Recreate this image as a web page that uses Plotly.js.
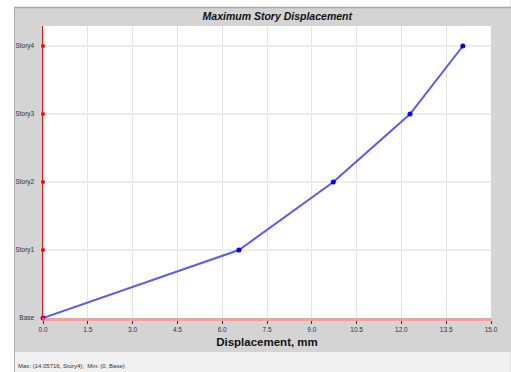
<!DOCTYPE html>
<html>
<head>
<meta charset="utf-8">
<script src="https://cdn.plot.ly/plotly-3.0.1.min.js"></script>
<style>html,body{margin:0;padding:0;background:#fff;}#chart{width:511px;height:372px;}</style>
</head>
<body>
<div id="chart"></div>
<script>
const stories = ['Base', 'Story1', 'Story2', 'Story3', 'Story4'];
const displacement = [0, 6.56, 9.72, 12.29, 14.05716];
const xTicks = [0, 1.5, 3.0, 4.5, 6.0, 7.5, 9.0, 10.5, 12.0, 13.5, 15.0];
const statusText = 'Max: (14.05716, Story4);  Min: (0, Base)';

const W = 511, H = 372;
const L = 43, R = 491.5, T = 26, B = 318;
const px = v => (v - L) / (R - L);
const py = v => (B - v) / (B - T);

const FONT = 'Liberation Sans, Arial, sans-serif';

const traces = [
  {
    x: displacement, y: stories, type: 'scatter', mode: 'lines+markers',
    line: {color: 'rgba(60,60,255,0.85)', width: 2},
    marker: {color: '#0000ee', size: 5},
    cliponaxis: false, hoverinfo: 'x+y'
  },
  {
    x: stories.map(() => 0), y: stories, type: 'scatter', mode: 'markers',
    marker: {color: '#ff0000', size: 4},
    cliponaxis: false, hoverinfo: 'skip'
  }
];

const layout = {
  width: W, height: H,
  margin: {l: L, r: W - R, t: T, b: H - B, pad: 0},
  paper_bgcolor: '#d4d4d4',
  plot_bgcolor: '#ffffff',
  showlegend: false,
  font: {family: FONT, color: '#222'},
  title: {
    text: '<b><i>Maximum Story Displacement</i></b>',
    font: {family: FONT, size: 10.5, color: '#111'},
    x: (L + R) / 2 / W, xanchor: 'center',
    y: 1 - 16 / H, yanchor: 'middle', xref: 'paper', yref: 'container'
  },
  xaxis: {
    range: [0, 15], tickvals: xTicks, ticktext: xTicks.map(v => v.toFixed(1)),
    ticks: 'outside', ticklen: 3, tickcolor: '#333', tickwidth: 1,
    tickfont: {family: FONT, size: 6.5, color: '#333'},
    showgrid: true, gridcolor: '#e4e4e4', gridwidth: 1,
    showline: true, linecolor: 'rgba(255,130,130,0.6)', linewidth: 3,
    zeroline: false, fixedrange: true,
    title: {text: '<b>Displacement, mm</b>', font: {family: FONT, size: 11.5, color: '#111'}, standoff: 7}
  },
  yaxis: {
    type: 'category', categoryorder: 'array', categoryarray: stories,
    range: [0, (B - T) / 68],
    ticks: '', tickfont: {family: FONT, size: 6.5, color: '#333'},
    ticklabelstandoff: 6,
    showgrid: true, gridcolor: '#eeeeee', gridwidth: 2,
    showline: true, linecolor: '#ff0000', linewidth: 1.5,
    zeroline: false, fixedrange: true
  },
  shapes: [
    {type: 'rect', xref: 'paper', yref: 'paper', x0: px(0), x1: px(W), y0: py(0), y1: py(7), fillcolor: '#ffffff', line: {width: 0}, layer: 'below'},
    {type: 'rect', xref: 'paper', yref: 'paper', x0: px(0), x1: px(14), y0: py(0), y1: py(H), fillcolor: '#ffffff', line: {width: 0}, layer: 'below'},
    {type: 'rect', xref: 'paper', yref: 'paper', x0: px(14), x1: px(W), y0: py(352), y1: py(H), fillcolor: '#f0f0f0', line: {width: 0}, layer: 'below'},
    {type: 'line', xref: 'paper', yref: 'paper', x0: px(14), x1: px(W), y0: py(7.5), y1: py(7.5), line: {color: '#a8a8a8', width: 1.5}, layer: 'below'},
    {type: 'line', xref: 'paper', yref: 'paper', x0: px(14.5), x1: px(14.5), y0: py(7), y1: py(H), line: {color: '#b0b0b0', width: 1}, layer: 'below'}
  ],
  annotations: [
    {text: statusText, xref: 'paper', yref: 'paper', x: px(16), y: py(366), xanchor: 'left', yanchor: 'middle',
     showarrow: false, font: {family: FONT, size: 6, color: '#333'}}
  ]
};

Plotly.newPlot('chart', traces, layout, {displayModeBar: false, staticPlot: true});
</script>
</body>
</html>
